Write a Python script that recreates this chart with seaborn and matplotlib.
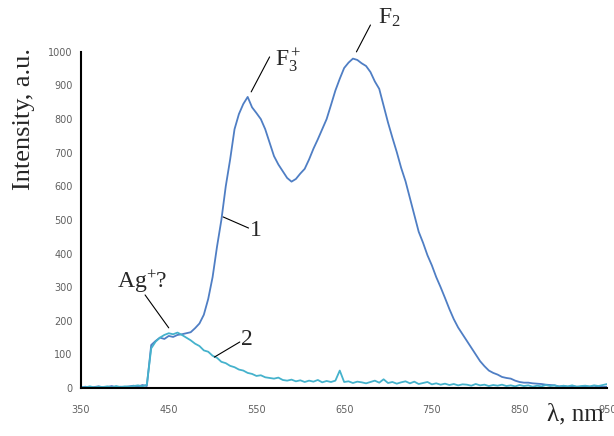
import numpy as np
import pandas as pd
import matplotlib
matplotlib.use("Agg")
import matplotlib.pyplot as plt
import seaborn as sns

# wavelength grid, nm
wavelength = list(range(350, 951, 5))

# curve 1
intensity_1 = [
    2, 4, 1, 3, 5, 2, 3, 6, 2, 4, 3, 5, 7, 4, 9, 6,            # 350-425
    128, 140, 150, 146, 155, 152, 158, 160, 163, 166,          # 430-475
    178, 192, 218, 265, 330, 420, 500, 600, 680, 770,          # 480-525
    815, 845, 866, 835, 818, 800, 770, 730, 690, 665,          # 530-575
    645, 625, 614, 622, 638, 652, 680, 712, 740, 770,          # 580-625
    800, 842, 885, 920, 952, 968, 980, 976, 966, 958,          # 630-675
    940, 912, 890, 840, 790, 745, 702, 655, 615, 565,          # 680-725
    515, 465, 432, 395, 365, 330, 300, 268, 235, 205,          # 730-775
    180, 160, 140, 120, 100, 80, 65, 52, 45, 40,               # 780-825
    33, 30, 28, 22, 18, 16, 16, 14, 13, 12,                    # 830-875
    10, 9, 8, 5, 6, 4, 6, 4, 3, 5, 4, 2, 5, 3, 4,              # 880-950
]

# curve 2
intensity_2 = [
    3, 2, 5, 2, 4, 3, 5, 2, 6, 3, 5, 4, 6, 8, 5, 10,           # 350-425
    118, 138, 150, 158, 163, 160, 165, 158, 150, 142,          # 430-475
    132, 125, 112, 108, 96, 90, 78, 74, 66, 62,                # 480-525
    55, 52, 45, 42, 36, 38, 32, 30, 28, 31,                    # 530-575
    24, 22, 25, 20, 23, 18, 22, 19, 24, 17,                    # 580-625
    21, 18, 22, 52, 18, 20, 15, 19, 17, 14,                    # 630-675
    18, 22, 16, 26, 15, 18, 13, 17, 20, 14,                    # 680-725
    19, 12, 15, 18, 11, 14, 10, 13, 9, 12,                     # 730-775
    8, 11, 10, 7, 12, 8, 10, 6, 9, 7,                          # 780-825
    10, 6, 8, 5, 9, 6, 8, 4, 7, 5,                             # 830-875
    9, 6, 8, 4, 7, 5, 8, 4, 6, 7, 5, 8, 6, 9, 12,              # 880-950
]

x_ticks = [350, 450, 550, 650, 750, 850, 950]
y_ticks = list(range(0, 1001, 100))

df = pd.DataFrame({"wavelength": wavelength, "1": intensity_1, "2": intensity_2})
df = df.melt(id_vars="wavelength", var_name="curve", value_name="intensity")

sns.set_style("white")
plt.rcParams["mathtext.fontset"] = "stix"
plt.rcParams["mathtext.default"] = "regular"
serif = "Liberation Serif"

fig = plt.figure(figsize=(6.14, 4.36), dpi=100)
ax = fig.add_axes([0.132, 0.110, 0.857, 0.771])

sns.lineplot(data=df, x="wavelength", y="intensity", hue="curve",
             palette={"1": "#4F7EC4", "2": "#45B2CC"}, linewidth=1.3,
             legend=False, ax=ax)

ax.set_xlim(350, 950)
ax.set_ylim(0, 1000)
ax.set_xticks(x_ticks)
ax.set_yticks(y_ticks)
ax.tick_params(axis="both", direction="in", length=3, width=1.2,
               labelsize=7, pad=6, colors="black", labelcolor="#606060")
ax.tick_params(axis="x", pad=12)
sns.despine(ax=ax)
for side in ["left", "bottom"]:
    ax.spines[side].set_color("black")
    ax.spines[side].set_linewidth(1.5)

ax.set_xlabel("")
ax.set_ylabel("Intensity, a.u.", family=serif, fontsize=19)
ax.yaxis.set_label_coords(-0.088, 0.80)
fig.text(0.891, 0.025, "λ, nm", family=serif, fontsize=18, ha="left", va="bottom")

# peak labels with leader lines
line_kw = dict(color="black", lw=0.8, clip_on=False)
ax.plot([544, 565], [881, 985], **line_kw)
ax.text(571, 975, r"F$_3^+$", family=serif, fontsize=17, ha="left", va="center")
ax.plot([664, 680], [1000, 1080], **line_kw)
ax.text(689, 1100, r"F$_2$", family=serif, fontsize=17, ha="left", va="center")
ax.plot([512, 541], [509, 476], **line_kw)
ax.text(543, 468, "1", family=serif, fontsize=17, ha="left", va="center")
ax.plot([423, 450], [277, 179], **line_kw)
ax.text(420, 315, r"Ag$^{+}$?", family=serif, fontsize=17, ha="center", va="center")
ax.plot([502, 531], [92, 137], **line_kw)
ax.text(532, 145, "2", family=serif, fontsize=17, ha="left", va="center")

fig.savefig("out.png", dpi=100)
